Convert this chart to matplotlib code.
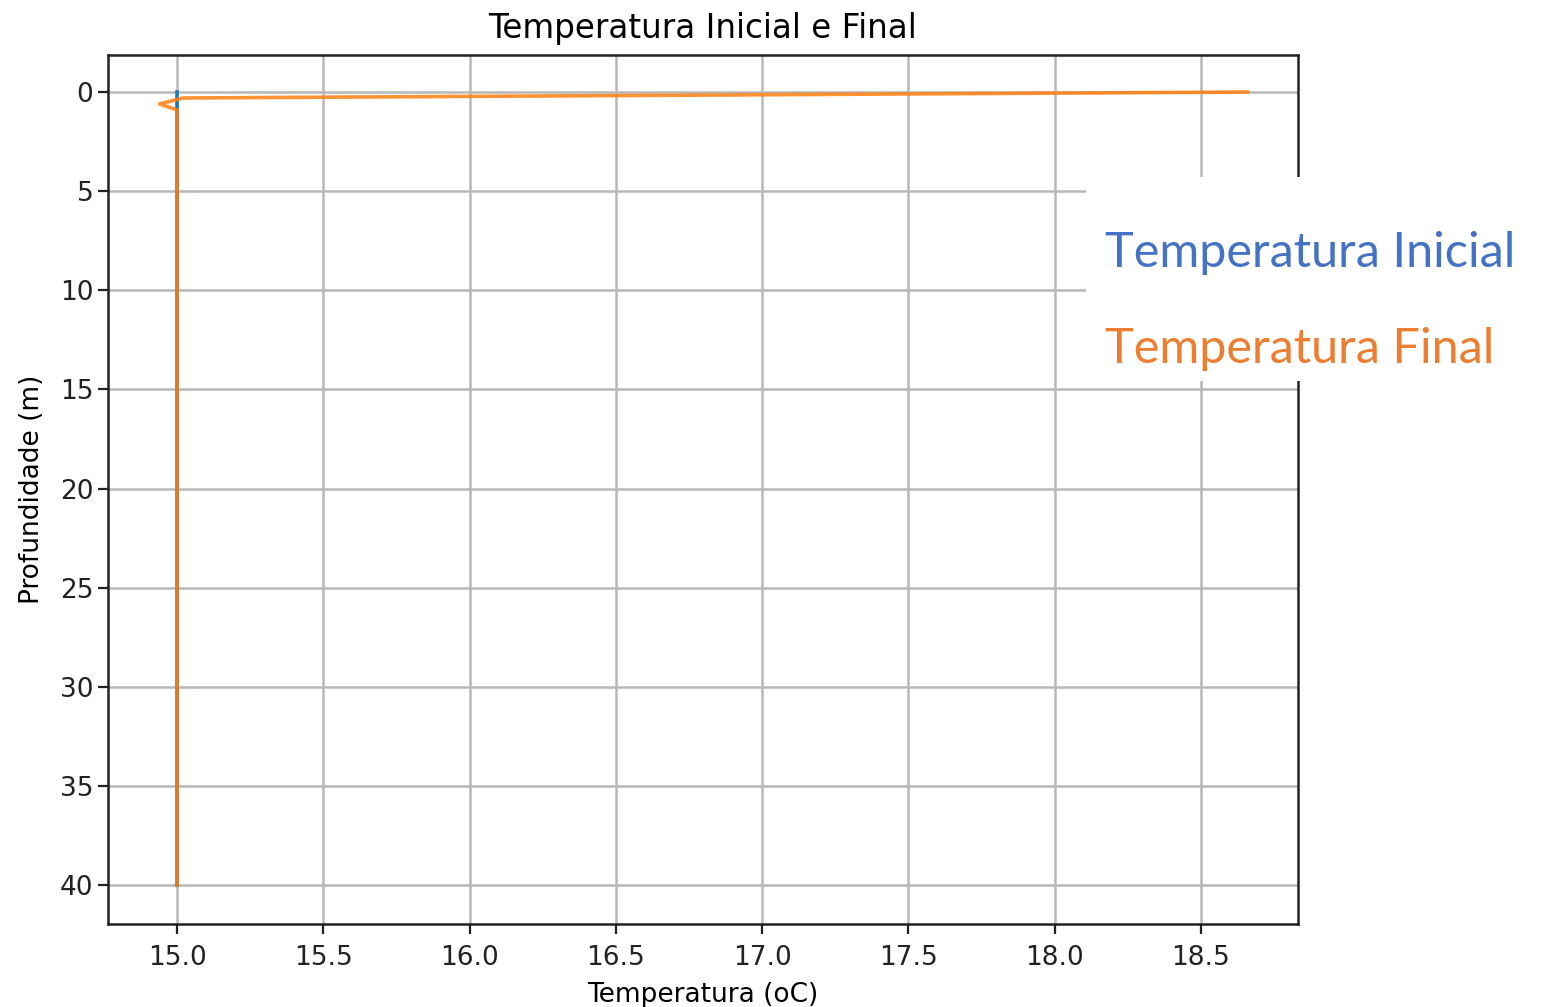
import numpy as np
import matplotlib
matplotlib.use("Agg")
import matplotlib.pyplot as plt
from matplotlib.patches import Rectangle

# depth profile (m) and temperatures (oC)
profundidade = [0.0, 0.3, 0.6, 0.9, 5.0, 10.0, 20.0, 30.0, 40.0]
temp_inicial = [15.0, 15.0, 15.0, 15.0, 15.0, 15.0, 15.0, 15.0, 15.0]
temp_final = [18.66, 15.02, 14.94, 15.0, 15.0, 15.0, 15.0, 15.0, 15.0]

fig = plt.figure(figsize=(15.43, 10.07), dpi=100)
ax = fig.add_axes([0.070, 0.0824, 0.7712, 0.863])

ax.plot(temp_inicial, profundidade, color='#1f77b4', lw=2.6)
ax.plot(temp_final, profundidade, color='#ff7f0e', lw=2.6, alpha=0.85)
ax.set_xlim(14.764, 18.832)
ax.set_ylim(41.97, -1.87)

ax.set_title('Temperatura Inicial e Final', fontsize=23.5, pad=12)
ax.set_xlabel('Temperatura (oC)', fontsize=19, labelpad=8)
ax.set_ylabel('Profundidade (m)', fontsize=19, labelpad=11)
ax.set_xticks(np.arange(15.0, 18.51, 0.5))
ax.set_yticks(np.arange(0, 41, 5))
ax.tick_params(labelsize=19, length=7, width=1.6, colors='#222222')
ax.tick_params(axis='x', pad=8)
ax.grid(True, color='#b8b8b8', lw=1.8)
for s in ax.spines.values():
    s.set_linewidth(1.8)
    s.set_color('#222222')

# white box with the series names on top of the plot
fig.patches.append(Rectangle((0.7038, 0.6216), 0.2962, 0.2026, transform=fig.transFigure,
                             facecolor='white', edgecolor='none', zorder=5))
fig.text(0.716, 0.735, 'Temperatura Inicial', color='#4472C4', fontsize=35,
         family='Lato', zorder=6)
fig.text(0.716, 0.640, 'Temperatura Final', color='#ED7D31', fontsize=35,
         family='Lato', zorder=6)

fig.savefig('out.png', dpi=100)
